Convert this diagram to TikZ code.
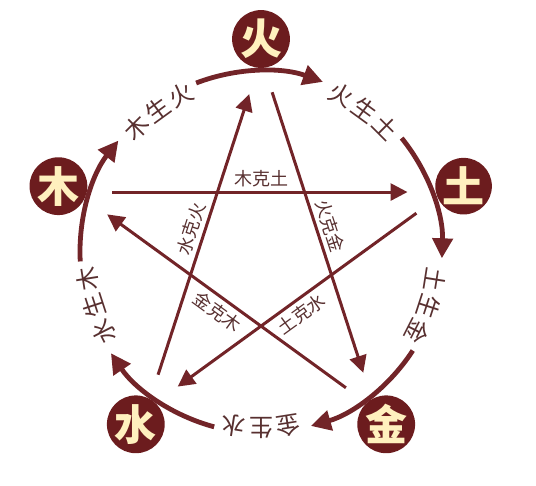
\documentclass[tikz,border=0pt]{standalone}
\usepackage{fontspec}
\newfontfamily\cjk{Noto Sans CJK SC}
\usetikzlibrary{arrows.meta}

\definecolor{wxdark}{RGB}{108,28,30}
\definecolor{wxline}{RGB}{114,36,40}
\definecolor{wxtext}{RGB}{88,48,48}
\definecolor{wxcream}{RGB}{255,240,190}

\tikzset{
  element/.style={circle, fill=wxdark, minimum size=51pt, inner sep=0pt,
    text=wxcream, font=\cjk\bfseries\fontsize{42}{42}\selectfont},
  ke/.style={wxline, line width=3pt, -{Triangle[length=17pt,width=17pt]},
    shorten <=36pt, shorten >=38pt},
  kelabel/.style={text=wxtext, inner sep=4pt, font=\cjk\fontsize{18}{18}\selectfont},
  sheng/.style={wxline, line width=4.8pt, -{Triangle[length=20pt,width=20pt]}},
  shenglabel/.style={text=wxtext, inner sep=0pt, font=\cjk\fontsize{24}{24}\selectfont}
}

\begin{document}
\begin{tikzpicture}[x=1pt,y=1pt]
\useasboundingbox (0,0) rectangle (536,486);

\begin{scope}[shift={(261,234)}]

% The five elements
\node[element] (huo)  at (90:213)   {火};
\node[element] (tu)   at (18:213)   {土};
\node[element] (jin)  at (-54:213)  {金};
\node[element] (shui) at (-126:213) {水};
\node[element] (mu)   at (162:213)  {木};

% Corners of the star
\coordinate (sHuo)  at (90:194);
\coordinate (sTu)   at (18:194);
\coordinate (sJin)  at (-54:194);
\coordinate (sShui) at (-126:194);
\coordinate (sMu)   at (162:194);

% Generating cycle (outer circle)
\foreach \a in {90,18,-54,-126,162} {
    \draw[sheng] (\a+21:181) arc[start angle=\a+21, end angle=\a-20, radius=181];
}
\foreach \a/\c/\d/\e in {126/木/生/火, 54/火/生/土, -18/土/生/金, -90/金/生/水, -162/水/生/木} {
    \node[shenglabel, rotate=\a+9-90] at (\a+9:176) {\c};
    \node[shenglabel, rotate=\a-90]   at (\a:176)   {\d};
    \node[shenglabel, rotate=\a-9-90] at (\a-9:176) {\e};
}

% Controlling cycle (star)
\draw[ke] (sMu)   -- node[kelabel, above] {木克土} (sTu);
\draw[ke] (sTu)   -- node[kelabel, below, sloped, pos=0.51] {土克水} (sShui);
\draw[ke] (sShui) -- node[kelabel, above, sloped, pos=0.50] {水克火} (sHuo);
\draw[ke] (sHuo)  -- node[kelabel, above, sloped, pos=0.49] {火克金} (sJin);
\draw[ke] (sJin)  -- node[kelabel, below, sloped, pos=0.50] {金克木} (sMu);

\end{scope}
\end{tikzpicture}
\end{document}
